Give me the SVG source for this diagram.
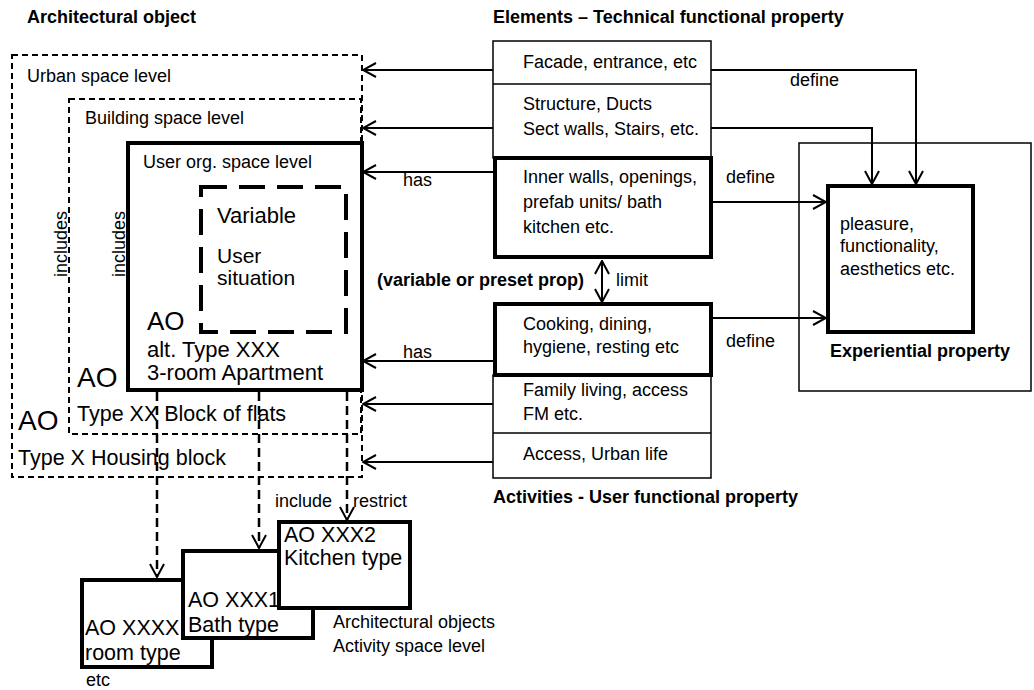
<svg xmlns="http://www.w3.org/2000/svg" width="1034" height="690" viewBox="0 0 1034 690">
<style>
text { font-family: "Liberation Sans", Arial, sans-serif; fill:#000; }
.t { font-size:18px; }
.b { font-size:18px; font-weight:bold; }
.m { font-size:21.5px; }
.m2 { font-size:22px; }
.v { font-size:22px; }
.v2 { font-size:21px; }
.big { font-size:28px; }
.big2 { font-size:26px; }
.thin { fill:none; stroke:#000; stroke-width:1.5; }
.thick { fill:#fff; stroke:#000; stroke-width:4; }
.thicknf { fill:none; stroke:#000; stroke-width:4; }
.dash { fill:none; stroke:#000; stroke-width:2; stroke-dasharray:6 4; }
.vdash { fill:none; stroke:#000; stroke-width:4; stroke-dasharray:26 12; }
.conn { fill:none; stroke:#000; stroke-width:2; }
.dconn { fill:none; stroke:#000; stroke-width:2.5; stroke-dasharray:9 5; }
</style>
<defs>
<marker id="arr" viewBox="0 0 16 16" refX="15" refY="8" markerWidth="16" markerHeight="16" markerUnits="userSpaceOnUse" orient="auto-start-reverse">
<path d="M2,1 L15,8 L2,15" fill="none" stroke="#000" stroke-width="2"/>
</marker>
</defs>
<rect width="1034" height="690" fill="#fff"/>

<g id="headings">
<text class="b" x="27" y="23">Architectural object</text>
<text class="b" x="493" y="23">Elements – Technical functional property</text>
<text class="b" x="493" y="503">Activities - User functional property</text>
<text class="b" x="377" y="286">(variable or preset prop)</text>
</g>

<g id="urban">
<rect class="dash" x="12" y="55" width="350" height="422"/>
<text class="t" x="27" y="82">Urban space level</text>
<text class="big" x="18" y="430">AO</text>
<text class="m" x="18" y="465">Type X Housing block</text>
<text class="t" transform="translate(67,277) rotate(-90)">includes</text>
</g>

<g id="building">
<rect class="dash" x="69" y="99" width="292" height="335"/>
<text class="t" x="85" y="124">Building space level</text>
<text class="big" x="77" y="387">AO</text>
<text class="m" x="77" y="421">Type XX Block of flats</text>
<text class="t" transform="translate(125,277) rotate(-90)">includes</text>
</g>

<g id="userorg">
<rect class="thicknf" x="128" y="143" width="234" height="247"/>
<text class="t" x="143" y="168">User org. space level</text>
<text class="big2" x="147" y="330">AO</text>
<text class="m2" x="147" y="357">alt. Type XXX</text>
<text class="m2" x="147" y="380">3-room Apartment</text>
</g>

<g id="variable">
<rect class="vdash" x="201" y="187" width="145" height="145"/>
<text class="v" x="217" y="223">Variable</text>
<text class="v2" x="217" y="263">User</text>
<text class="v2" x="217" y="285">situation</text>
</g>

<g id="elements-top">
<rect class="thin" x="493" y="41" width="218" height="117"/>
<line class="thin" x1="493" y1="84" x2="711" y2="84"/>
<text class="t" x="523" y="68">Facade, entrance, etc</text>
<text class="t" x="523" y="110">Structure, Ducts</text>
<text class="t" x="523" y="135">Sect walls, Stairs, etc.</text>
</g>

<g id="inner">
<rect class="thick" x="495" y="158" width="216" height="99"/>
<text class="t" x="523" y="183">Inner walls, openings,</text>
<text class="t" x="523" y="208">prefab units/ bath</text>
<text class="t" x="523" y="233">kitchen etc.</text>
</g>

<g id="cooking">
<rect class="thick" x="495" y="304" width="216" height="71"/>
<text class="t" x="523" y="330">Cooking, dining,</text>
<text class="t" x="523" y="353">hygiene, resting etc</text>
</g>

<g id="activities-bottom">
<rect class="thin" x="493" y="375" width="218" height="103"/>
<line class="thin" x1="493" y1="433" x2="711" y2="433"/>
<text class="t" x="523" y="396">Family living, access</text>
<text class="t" x="523" y="420">FM etc.</text>
<text class="t" x="523" y="460">Access, Urban life</text>
</g>

<g id="experiential">
<rect class="thin" x="799" y="143" width="232" height="248"/>
<text class="b" x="830" y="357">Experiential property</text>
</g>

<g id="pleasure">
<rect class="thick" x="828" y="186" width="145" height="146"/>
<text class="t" x="840" y="230">pleasure,</text>
<text class="t" x="840" y="252">functionality,</text>
<text class="t" x="840" y="275">aesthetics etc.</text>
</g>

<g id="room">
<rect class="thick" x="82" y="580" width="130" height="87"/>
<text class="m" x="85" y="635">AO XXXX</text>
<text class="m" x="85" y="660">room type</text>
<text class="t" x="86" y="686">etc</text>
</g>
<g id="bath">
<rect class="thick" x="183" y="551" width="130" height="87"/>
<text class="m" x="188" y="607">AO XXX1</text>
<text class="m" x="188" y="632">Bath type</text>
</g>
<g id="kitchen">
<rect class="thick" x="279" y="522" width="131" height="86"/>
<text class="m" x="284" y="542">AO XXX2</text>
<text class="m" x="284" y="565">Kitchen type</text>
</g>
<g id="activity-level-label">
<text class="t" x="333" y="628">Architectural objects</text>
<text class="t" x="333" y="652">Activity space level</text>
</g>

<g id="connectors">
<line class="conn" x1="493" y1="70" x2="363" y2="70" marker-end="url(#arr)"/>
<line class="conn" x1="493" y1="128" x2="363" y2="128" marker-end="url(#arr)"/>
<line class="conn" x1="493" y1="172" x2="363" y2="172" marker-end="url(#arr)"/>
<line class="conn" x1="493" y1="361" x2="363" y2="361" marker-end="url(#arr)"/>
<line class="conn" x1="493" y1="404" x2="363" y2="404" marker-end="url(#arr)"/>
<line class="conn" x1="493" y1="462" x2="363" y2="462" marker-end="url(#arr)"/>
<text class="t" x="403" y="186">has</text>
<text class="t" x="403" y="358">has</text>
<polyline class="conn" points="711,70 916,70 916,184" marker-end="url(#arr)"/>
<polyline class="conn" points="711,128 872,128 872,184" marker-end="url(#arr)"/>
<text class="t" x="790" y="86">define</text>
<line class="conn" x1="711" y1="202" x2="826" y2="202" marker-end="url(#arr)"/>
<text class="t" x="726" y="183">define</text>
<line class="conn" x1="711" y1="318" x2="826" y2="318" marker-end="url(#arr)"/>
<text class="t" x="726" y="347">define</text>
<line class="conn" x1="602" y1="261" x2="602" y2="302" marker-start="url(#arr)" marker-end="url(#arr)"/>
<text class="t" x="616" y="286">limit</text>
<line class="dconn" x1="157" y1="392" x2="157" y2="577" marker-end="url(#arr)"/>
<line class="dconn" x1="259" y1="392" x2="259" y2="548" marker-end="url(#arr)"/>
<line class="dconn" x1="347" y1="392" x2="347" y2="520" marker-end="url(#arr)"/>
<text class="t" x="275" y="507">include</text>
<text class="t" x="353" y="507">restrict</text>
</g>
</svg>
